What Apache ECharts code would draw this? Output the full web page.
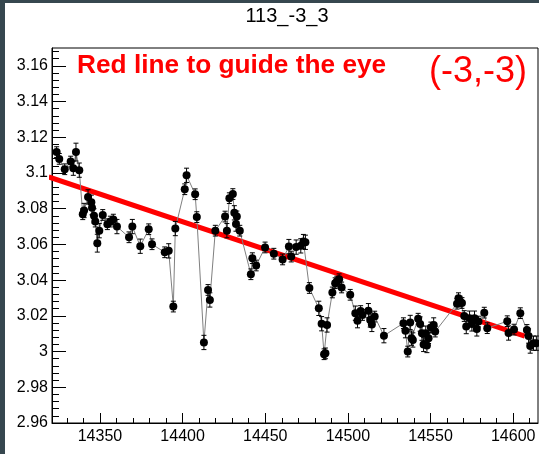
<!DOCTYPE html>
<html><head><meta charset="utf-8">
<script src="https://cdn.jsdelivr.net/npm/echarts@6/dist/echarts.min.js"></script>
<style>html,body{margin:0;padding:0;background:#36474f;}#c{width:539px;height:454px;}</style>
</head><body><div id="c"></div>
<script>
const titleText = '113_-3_3';
const noteText = 'Red line to guide the eye';
const tagText = '(-3,-3)';

const times = [14323.8,14325.4,14328.7,14332.3,14333.9,14335.5,14337.5,14339.6,14340.4,14342.8,
14344.8,14345.2,14346.4,14347.2,14348.4,14349.6,14351.7,14354.5,14356.3,14358.1,
14360.3,14367.6,14369.6,14374.4,14379.5,14381.5,14389.2,14391.6,14394.4,14395.6,
14401.3,14402.4,14407.6,14408.6,14412.9,14415.4,14416.5,14419.8,14425.7,14426.8,
14428.3,14430.4,14431.3,14432.3,14432.8,14434.6,14441.3,14442.2,14444.5,14449.9,
14455.2,14460.5,14464.3,14465.7,14468.7,14471.5,14473.1,14474.3,14476.7,14482.4,
14484.1,14485.6,14486.4,14487.4,14490.6,14492.3,14493.3,14494.7,14496.2,14501.4,
14504.5,14505.8,14507.7,14508.8,14512.4,14513.5,14514.5,14516.2,14521.8,14533.6,
14534.8,14536.2,14537.7,14538.5,14539.3,14542.5,14543.7,14544.8,14545.8,14547.1,
14547.8,14548.8,14550.2,14551.9,14552.8,14566.0,14566.9,14567.9,14569.0,14570.4,
14571.6,14573.6,14575.0,14576.6,14578.0,14579.0,14582.5,14584.3,14596.4,14597.2,
14600.5,14604.3,14608.3,14609.3,14610.3,14612.3,14614.0];

const values = [3.1117,3.1079,3.1021,3.1064,3.1027,3.1117,3.1016,3.0769,3.0790,3.0866,
3.0836,3.0806,3.0760,3.0728,3.0607,3.0677,3.0765,3.0713,3.0728,3.0739,
3.0700,3.0640,3.0700,3.0590,3.0685,3.0601,3.0556,3.0564,3.0252,3.0689,
3.0909,3.0987,3.0881,3.0753,3.0051,3.0345,3.0289,3.0677,3.0756,3.0677,
3.0859,3.0882,3.0777,3.0714,3.0757,3.0677,3.0433,3.0523,3.0482,3.0583,
3.0548,3.0516,3.0588,3.0532,3.0585,3.0592,3.0616,3.0612,3.0356,3.0242,
3.0156,2.9985,2.9990,3.0149,3.0331,3.0383,3.0392,3.0405,3.0359,3.0318,
3.0215,3.0173,3.0227,3.0205,3.0229,3.0177,3.0152,3.0196,3.0089,3.0159,
3.0117,3.0000,3.0163,3.0075,3.0065,3.0184,3.0154,3.0103,3.0040,3.0103,
3.0034,3.0075,3.0135,3.0149,3.0112,3.0268,3.0299,3.0280,3.0272,3.0199,
3.0140,3.0187,3.0155,3.0187,3.0127,3.0168,3.0218,3.0131,3.0170,3.0104,
3.0123,3.0215,3.0121,3.0087,3.0031,3.0047,3.0047];

const errors = [0.003,0.003,0.003,0.003,0.004,0.005,0.004,0.003,0.004,0.004,
0.004,0.004,0.004,0.003,0.005,0.004,0.003,0.003,0.003,0.003,
0.004,0.003,0.004,0.004,0.003,0.003,0.003,0.004,0.003,0.004,
0.003,0.004,0.003,0.003,0.004,0.003,0.004,0.003,0.003,0.004,
0.003,0.003,0.004,0.004,0.003,0.003,0.003,0.003,0.003,0.003,
0.003,0.003,0.004,0.003,0.004,0.004,0.004,0.004,0.003,0.004,
0.004,0.003,0.003,0.004,0.003,0.003,0.003,0.003,0.003,0.003,
0.004,0.004,0.003,0.003,0.004,0.004,0.004,0.003,0.004,0.003,
0.004,0.003,0.004,0.004,0.004,0.003,0.004,0.004,0.004,0.004,
0.004,0.003,0.003,0.004,0.003,0.003,0.003,0.003,0.003,0.003,
0.004,0.004,0.004,0.004,0.004,0.003,0.003,0.003,0.003,0.004,
0.003,0.003,0.003,0.004,0.004,0.004,0.004];

const guideX = [14319, 14607];
const guideY = [3.0978, 3.0087];

const xMajorTicks = [14350,14400,14450,14500,14550,14600];
const xMinorTicks = [14330,14340,14360,14370,14380,14390,14410,14420,14430,14440,14460,14470,14480,14490,
14510,14520,14530,14540,14560,14570,14580,14590,14610];
const yMajorTicks = [2.96,2.98,3.00,3.02,3.04,3.06,3.08,3.10,3.12,3.14,3.16];
const yMinorTicks = [2.964,2.968,2.972,2.976,2.984,2.988,2.992,2.996,3.004,3.008,3.012,3.016,3.024,3.028,3.032,3.036,
3.044,3.048,3.052,3.056,3.064,3.068,3.072,3.076,3.084,3.088,3.092,3.096,3.104,3.108,3.112,3.116,3.124,3.128,3.132,3.136,
3.144,3.148,3.152,3.156,3.164,3.168];

const X_MIN = 14321, X_MAX = 14615, Y_MIN = 2.96, Y_MAX = 3.17;
const FONT = 'Liberation Sans, Arial, Helvetica, sans-serif';

const points = times.map((t, i) => [t, values[i]]);
const errData = times.map((t, i) => [t, values[i], errors[i]]);

const chart = echarts.init(document.getElementById('c'), null, {renderer: 'canvas'});

function axisBase(kind, min, max, pos, ticks, len, showLabels, showLine) {
  return {
    type: 'value', min: min, max: max, position: pos,
    splitLine: {show: false},
    axisLine: {show: showLine, onZero: false, lineStyle: {color: '#000', width: 1}},
    axisTick: {show: true, inside: true, length: len, customValues: ticks, lineStyle: {color: '#000', width: 1}},
    axisLabel: showLabels ? {
      show: true, customValues: ticks, color: '#000', fontSize: 16, fontFamily: FONT,
      margin: kind === 'x' ? 6 : 4,
      formatter: v => String(parseFloat(Number(v).toFixed(3)))
    } : {show: false}
  };
}

chart.setOption({
  animation: false,
  backgroundColor: '#ffffff',
  grid: {left: 52, top: 48, right: 1, bottom: 31, show: true, borderColor: '#000', borderWidth: 1, backgroundColor: 'transparent'},
  xAxis: [
    axisBase('x', X_MIN, X_MAX, 'bottom', xMajorTicks, 10, true, true),
    axisBase('x', X_MIN, X_MAX, 'bottom', xMinorTicks, 5, false, false)
  ],
  yAxis: [
    axisBase('y', Y_MIN, Y_MAX, 'left', yMajorTicks, 14, true, true),
    axisBase('y', Y_MIN, Y_MAX, 'left', yMinorTicks, 7, false, false)
  ],
  graphic: [
    {type: 'rect', left: 0, top: 0, shape: {width: 5, height: 454}, style: {fill: '#36474f'}, z: 100},
    {type: 'rect', left: 0, top: 0, shape: {width: 539, height: 3}, style: {fill: '#36474f'}, z: 100},
    {type: 'text', x: 287, y: 16.5, style: {text: titleText, fill: '#000', font: '20px ' + FONT, align: 'center', verticalAlign: 'middle'}, z: 100},
    {type: 'text', x: 77, y: 66.5, scaleX: 1.05, style: {text: noteText, fill: '#ff0000', font: 'bold 25px ' + FONT, align: 'left', verticalAlign: 'middle'}, z: 100},
    {type: 'text', x: 478, y: 72, style: {text: tagText, fill: '#ff0000', font: '36px ' + FONT, align: 'center', verticalAlign: 'middle'}, z: 100}
  ],
  series: [
    {
      type: 'line', xAxisIndex: 0, yAxisIndex: 0, z: 1,
      data: [[guideX[0], guideY[0]], [guideX[1], guideY[1]]],
      symbol: 'none', clip: false,
      lineStyle: {color: '#ff0000', width: 5}
    },
    {
      type: 'line', xAxisIndex: 0, yAxisIndex: 0, z: 2,
      data: points,
      symbol: 'circle', symbolSize: 8,
      itemStyle: {color: '#000'},
      lineStyle: {color: '#808080', width: 1}
    },
    {
      type: 'custom', xAxisIndex: 0, yAxisIndex: 0, z: 3,
      data: errData,
      encode: {x: 0, y: 1},
      renderItem: function (params, api) {
        const x = api.value(0), y = api.value(1), e = api.value(2);
        const top = api.coord([x, y + e]);
        const bot = api.coord([x, y - e]);
        const c = 2.5;
        const st = {stroke: '#000', lineWidth: 1};
        return {type: 'group', children: [
          {type: 'line', shape: {x1: top[0], y1: top[1], x2: bot[0], y2: bot[1]}, style: st},
          {type: 'line', shape: {x1: top[0] - c, y1: top[1], x2: top[0] + c, y2: top[1]}, style: st},
          {type: 'line', shape: {x1: bot[0] - c, y1: bot[1], x2: bot[0] + c, y2: bot[1]}, style: st}
        ]};
      }
    }
  ]
});
</script></body></html>
